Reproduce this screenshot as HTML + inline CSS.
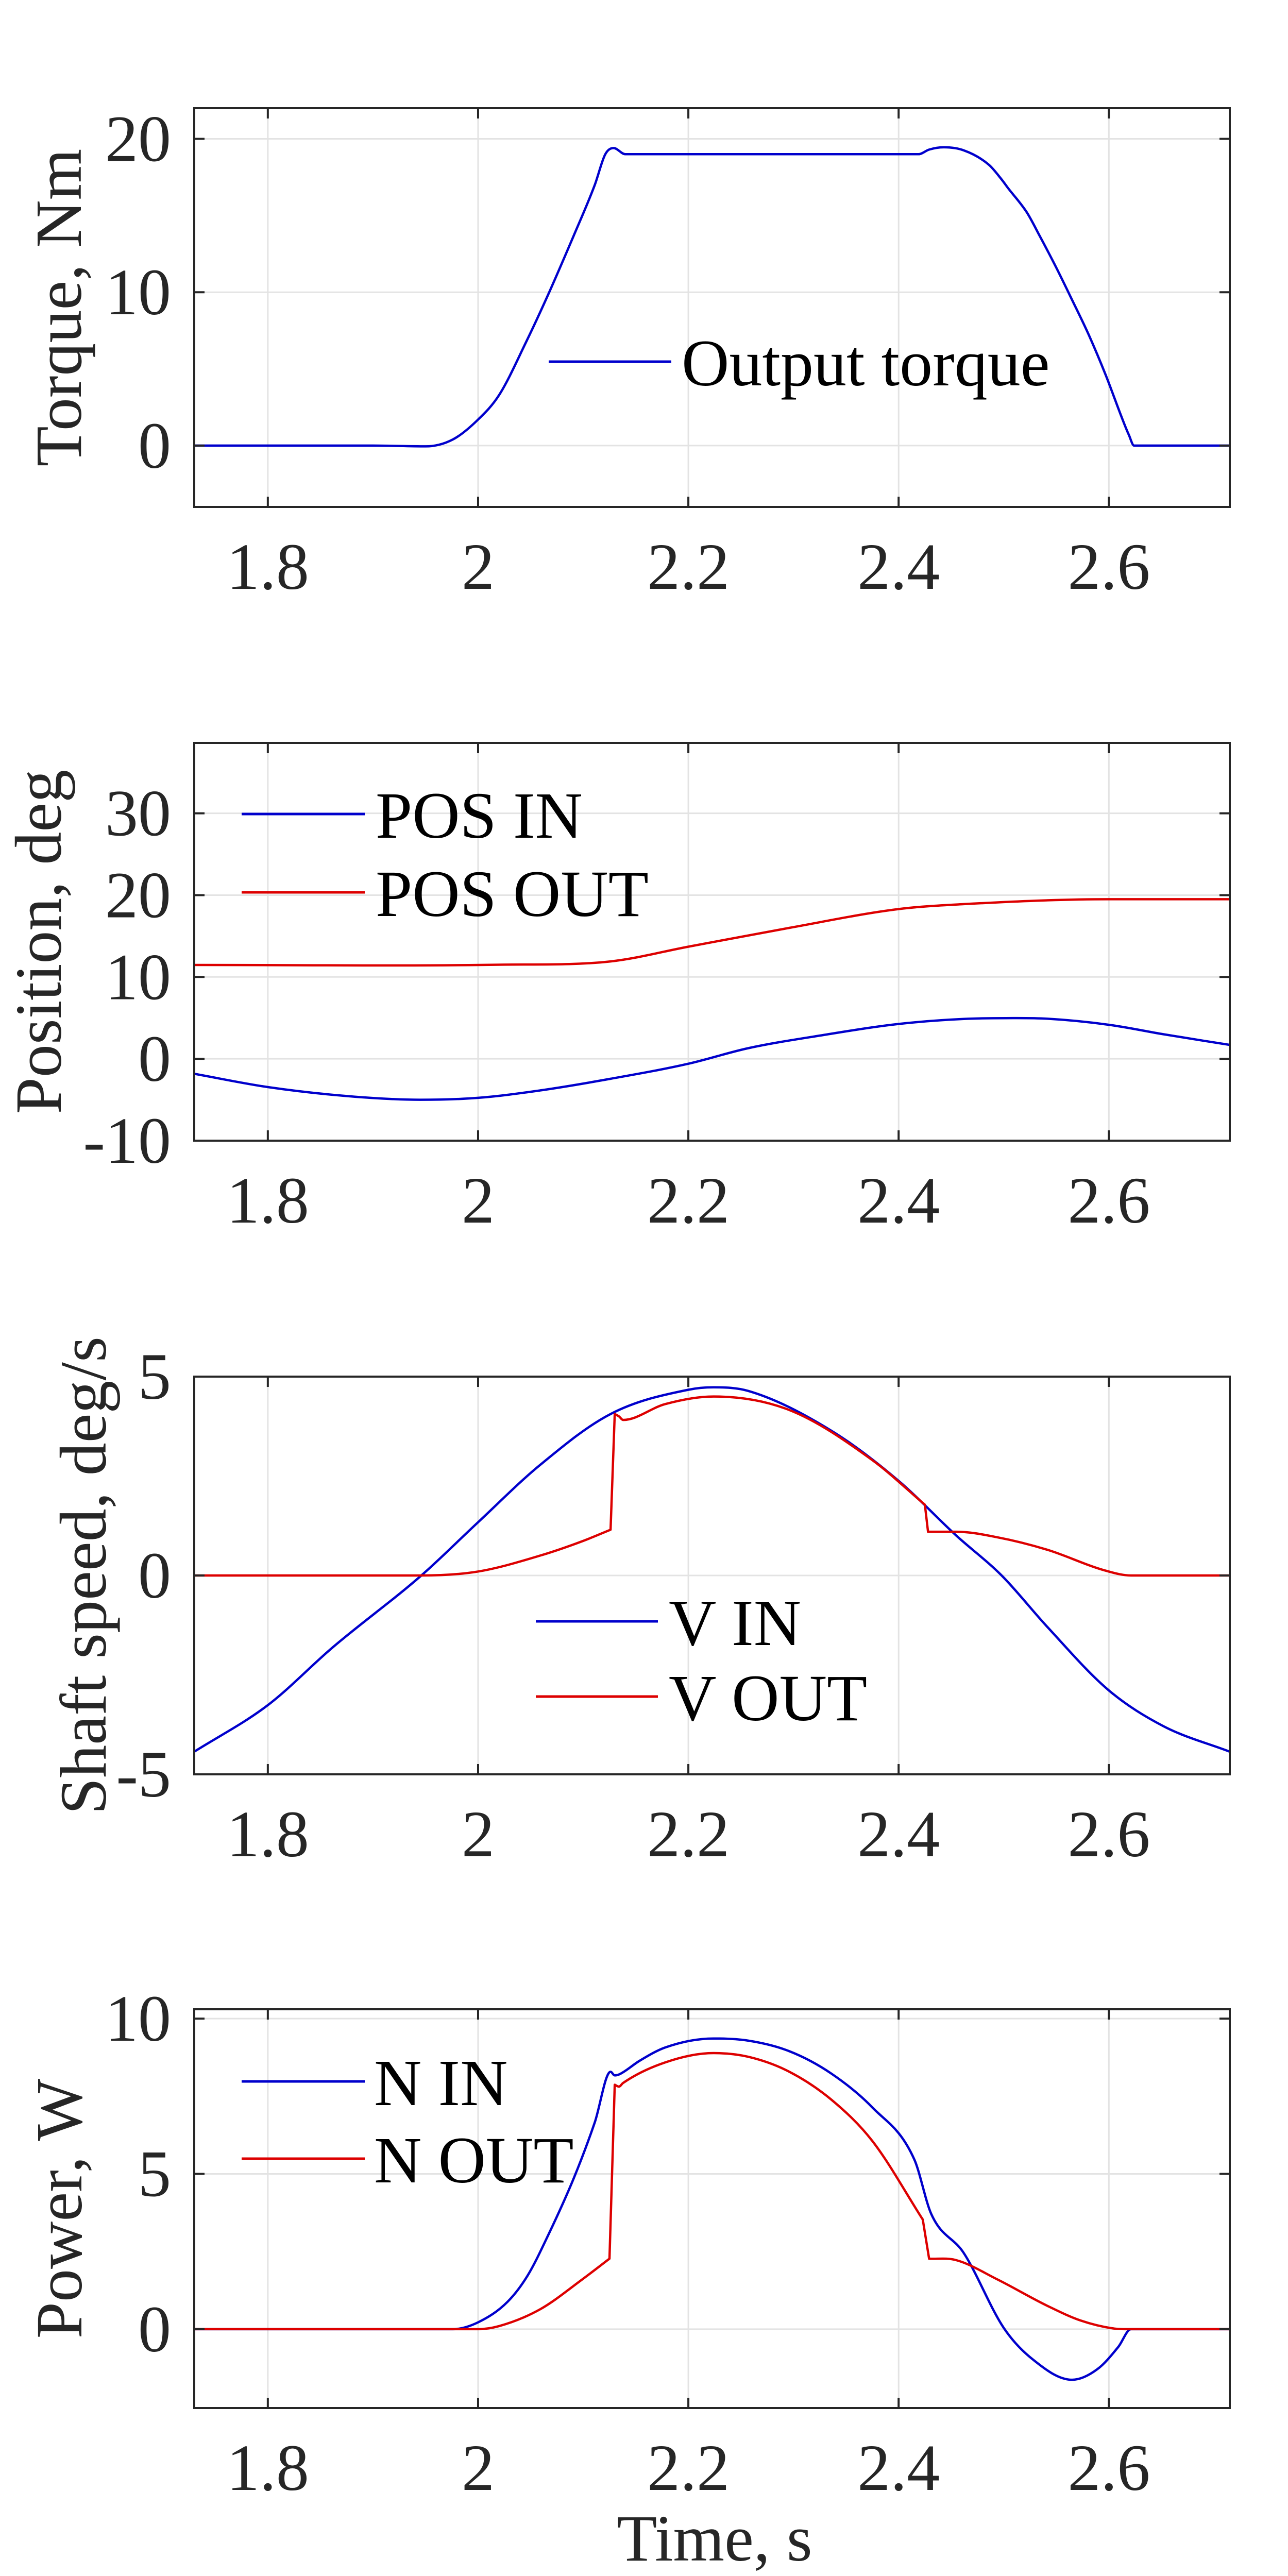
<!DOCTYPE html>
<html><head><meta charset="utf-8"><style>
html,body{margin:0;padding:0;background:#fff;width:2500px;height:5027px;overflow:hidden;}
svg{display:block;}
text{font-family:"Liberation Serif","Times New Roman",serif;}
</style></head><body>
<svg id="fig" width="2500" height="5027" viewBox="0 0 2500 5027" xmlns="http://www.w3.org/2000/svg"></svg>
<script>
// ---- data ----
const xTicks = [1.8, 2.0, 2.2, 2.4, 2.6];
const xTickLabels = ["1.8", "2", "2.2", "2.4", "2.6"];

const torqueT = [1.73,1.9,1.95,1.976,2.0,2.02,2.046,2.067,2.091,2.111,2.121,2.129,2.14,2.2,2.3,2.419,2.429,2.443,2.462,2.486,2.498,2.504,2.522,2.534,2.55,2.565,2.581,2.597,2.613,2.619,2.624,2.715];
const torqueV = [0,0,-0.05,0.4,1.7,3.3,6.8,9.9,13.7,17.0,19.0,19.4,19.0,19.0,19.0,19.0,19.3,19.45,19.25,18.3,17.35,16.8,15.2,13.7,11.6,9.5,7.2,4.6,1.7,0.7,0,0];

const posInT = [1.73,1.8,1.877,1.945,2.0,2.059,2.126,2.2,2.257,2.328,2.4,2.462,2.502,2.541,2.6,2.652,2.715];
const posInV = [-1.83,-3.45,-4.57,-5.0,-4.77,-3.86,-2.44,-0.6,1.3,2.9,4.26,4.87,4.97,4.9,4.16,3.0,1.7];
const posOutT = [1.73,2.02,2.126,2.2,2.296,2.4,2.462,2.6,2.715];
const posOutV = [11.47,11.5,11.9,13.7,16.0,18.3,18.9,19.5,19.5];

const vInT = [1.73,1.8,1.862,1.946,2.0,2.059,2.126,2.2,2.224,2.257,2.336,2.4,2.455,2.498,2.541,2.6,2.652,2.715];
const vInV = [-4.43,-3.26,-1.8,0,1.34,2.78,4.06,4.67,4.73,4.64,3.64,2.38,1.0,0,-1.28,-2.89,-3.79,-4.43];
const vOutT = [1.73,1.946,2.0,2.059,2.099,2.126,2.13,2.134,2.138,2.178,2.224,2.296,2.375,2.425,2.428,2.455,2.494,2.541,2.597,2.621,2.715];
const vOutV = [0,0,0.1,0.5,0.86,1.15,4.06,4.0,3.91,4.31,4.5,4.16,2.9,1.78,1.1,1.1,0.96,0.65,0.12,0,0];

const nInT = [1.73,1.976,2.0,2.028,2.047,2.067,2.091,2.111,2.126,2.13,2.134,2.154,2.178,2.224,2.257,2.296,2.336,2.375,2.415,2.431,2.462,2.5,2.526,2.565,2.589,2.609,2.621,2.715];
const nInV = [0,0,0.22,0.88,1.72,3.05,4.86,6.66,8.29,8.17,8.2,8.65,9.07,9.36,9.29,8.95,8.23,7.14,5.46,3.71,2.45,0.04,-0.93,-1.63,-1.29,-0.57,0,0];
const nOutT = [1.73,2.0,2.02,2.059,2.099,2.125,2.13,2.134,2.138,2.178,2.224,2.257,2.296,2.336,2.375,2.423,2.429,2.454,2.494,2.541,2.573,2.605,2.621,2.715];
const nOutV = [0,0,0.1,0.64,1.6,2.27,7.87,7.81,7.93,8.59,8.89,8.77,8.29,7.39,6.06,3.53,2.27,2.23,1.6,0.76,0.28,0.02,0,0];

// ---- layout ----
const NS = "http://www.w3.org/2000/svg";
const svg = document.getElementById('fig');
const X0 = 377, X1 = 2387, TMIN = 1.73, TMAX = 2.715;
const FS = 128;
function xs(t){ return X0 + (t - TMIN) / (TMAX - TMIN) * (X1 - X0); }
function mk(tag, attrs, parent){
  const e = document.createElementNS(NS, tag);
  for (const k in attrs) e.setAttribute(k, attrs[k]);
  (parent || svg).appendChild(e);
  return e;
}
// smooth path; steep "jump" segments are drawn straight and neighbours use one-sided slopes
function smoothPath(P){
  const n = P.length, d = [], jump = [];
  for (let i = 0; i < n - 1; i++){
    const dx = P[i+1][0] - P[i][0], dy = P[i+1][1] - P[i][1];
    d.push(dy / dx);
    jump.push(Math.abs(dy) > 40 && Math.abs(dy / dx) > 6);
  }
  const m = new Array(n);
  for (let i = 0; i < n; i++){
    const L = i > 0 && !jump[i-1] ? d[i-1] : null;
    const R = i < n - 1 && !jump[i] ? d[i] : null;
    if (L === null && R === null) m[i] = 0;
    else if (L === null) m[i] = R;
    else if (R === null) m[i] = L;
    else m[i] = (L * R <= 0) ? 0 : (L + R) / 2;
  }
  let s = 'M' + P[0][0].toFixed(1) + ',' + P[0][1].toFixed(1);
  for (let i = 0; i < n - 1; i++){
    if (jump[i]){ s += ' L' + P[i+1][0].toFixed(1) + ',' + P[i+1][1].toFixed(1); continue; }
    const h = (P[i+1][0] - P[i][0]) / 3;
    s += ' C' + (P[i][0] + h).toFixed(1) + ',' + (P[i][1] + m[i]*h).toFixed(1) + ' ' +
         (P[i+1][0] - h).toFixed(1) + ',' + (P[i+1][1] - m[i+1]*h).toFixed(1) + ' ' +
         P[i+1][0].toFixed(1) + ',' + P[i+1][1].toFixed(1);
  }
  return s;
}
function panel(cfg){
  const g = mk('g', {});
  
  
  const ys = v => cfg.bot - (v - cfg.ymin) / (cfg.ymax - cfg.ymin) * (cfg.bot - cfg.top);
  xTicks.forEach((t) => {
    const l = mk('line', {x1: xs(t), x2: xs(t), y1: cfg.top, y2: cfg.bot, stroke: '#e3e3e3', 'stroke-width': 3}, g);
    
    
  });
  cfg.yTicks.forEach((v) => {
    const l = mk('line', {x1: X0, x2: X1, y1: ys(v), y2: ys(v), stroke: '#e3e3e3', 'stroke-width': 3}, g);
    
    
  });
  cfg.series.forEach(s => {
    const P = s.t.map((t, i) => [xs(t), ys(s.v[i])]);
    const p = mk('path', {d: smoothPath(P), fill: 'none', stroke: s.color, 'stroke-width': 4.5, 'stroke-linejoin': 'round'}, g);
    
    
  });
  const box = mk('rect', {x: X0, y: cfg.top, width: X1 - X0, height: cfg.bot - cfg.top, fill: 'none', stroke: '#262626', 'stroke-width': 4}, g);
  
  
  xTicks.forEach((t, i) => {
    mk('line', {x1: xs(t), x2: xs(t), y1: cfg.bot, y2: cfg.bot - 20, stroke: '#262626', 'stroke-width': 4}, g);
    mk('line', {x1: xs(t), x2: xs(t), y1: cfg.top, y2: cfg.top + 20, stroke: '#262626', 'stroke-width': 4}, g);
    const tx = mk('text', {x: xs(t), y: cfg.bot + 159, 'font-size': FS, fill: '#262626', 'text-anchor': 'middle'}, g);
    tx.textContent = xTickLabels[i];
    
    
  });
  cfg.yTicks.forEach((v, i) => {
    mk('line', {x1: X0, x2: X0 + 20, y1: ys(v), y2: ys(v), stroke: '#262626', 'stroke-width': 4}, g);
    mk('line', {x1: X1, x2: X1 - 20, y1: ys(v), y2: ys(v), stroke: '#262626', 'stroke-width': 4}, g);
    const tx = mk('text', {x: 332, y: ys(v) + 43, 'font-size': FS, fill: '#262626', 'text-anchor': 'end'}, g);
    tx.textContent = cfg.yTickLabels[i];
    
    
  });
  const cy = (cfg.top + cfg.bot) / 2;
  const yl = mk('text', {x: cfg.ylx, y: cy, 'font-size': FS, fill: '#262626', 'text-anchor': 'middle', transform: 'rotate(-90 ' + cfg.ylx + ' ' + cy + ')'}, g);
  yl.textContent = cfg.ylabel;
  
  
  cfg.legend.forEach(L => {
    const lg = mk('g', {}, g);
    
    
    mk('line', {x1: L.x1, x2: L.x2, y1: L.y, y2: L.y, stroke: L.color, 'stroke-width': 5}, lg);
    const tx = mk('text', {x: L.tx, y: L.y + 46, 'font-size': FS, fill: '#000'}, lg);
    tx.textContent = L.text;
  });
}

panel({name: 'torque-chart', top: 210, bot: 984, ymin: -4, ymax: 22, yTicks: [0, 10, 20], yTickLabels: ['0', '10', '20'],
  ylabel: 'Torque, Nm', ylx: 157,
  series: [{id: 'output-torque', t: torqueT, v: torqueV, color: '#0000cc'}],
  legend: [{x1: 1065, x2: 1303, y: 702, tx: 1323, text: 'Output torque', color: '#0000cc'}]});

panel({name: 'position-chart', top: 1442, bot: 2214, ymin: -10, ymax: 38.6, yTicks: [-10, 0, 10, 20, 30], yTickLabels: ['-10', '0', '10', '20', '30'],
  ylabel: 'Position, deg', ylx: 118,
  series: [{id: 'pos-in', t: posInT, v: posInV, color: '#0000cc'}, {id: 'pos-out', t: posOutT, v: posOutV, color: '#dd0000'}],
  legend: [{x1: 469, x2: 708, y: 1580, tx: 729, text: 'POS IN', color: '#0000cc'},
           {x1: 469, x2: 708, y: 1732, tx: 729, text: 'POS OUT', color: '#dd0000'}]});

panel({name: 'shaft-speed-chart', top: 2672, bot: 3444, ymin: -5, ymax: 5.0, yTicks: [-5, 0, 5], yTickLabels: ['-5', '0', '5'],
  ylabel: 'Shaft speed, deg/s', ylx: 205,
  series: [{id: 'v-in', t: vInT, v: vInV, color: '#0000cc'}, {id: 'v-out', t: vOutT, v: vOutV, color: '#dd0000'}],
  legend: [{x1: 1040, x2: 1277, y: 3147, tx: 1298, text: 'V IN', color: '#0000cc'},
           {x1: 1040, x2: 1277, y: 3293, tx: 1298, text: 'V OUT', color: '#dd0000'}]});

panel({name: 'power-chart', top: 3900, bot: 4674, ymin: -2.54, ymax: 10.3, yTicks: [0, 5, 10], yTickLabels: ['0', '5', '10'],
  ylabel: 'Power, W', ylx: 158,
  series: [{id: 'n-in', t: nInT, v: nInV, color: '#0000cc'}, {id: 'n-out', t: nOutT, v: nOutV, color: '#dd0000'}],
  legend: [{x1: 469, x2: 708, y: 4040, tx: 726, text: 'N IN', color: '#0000cc'},
           {x1: 469, x2: 708, y: 4190, tx: 726, text: 'N OUT', color: '#dd0000'}]});

const xl = mk('text', {x: 1387, y: 4970, 'font-size': FS, fill: '#262626', 'text-anchor': 'middle'});
xl.textContent = 'Time, s';


</script>
</body></html>
